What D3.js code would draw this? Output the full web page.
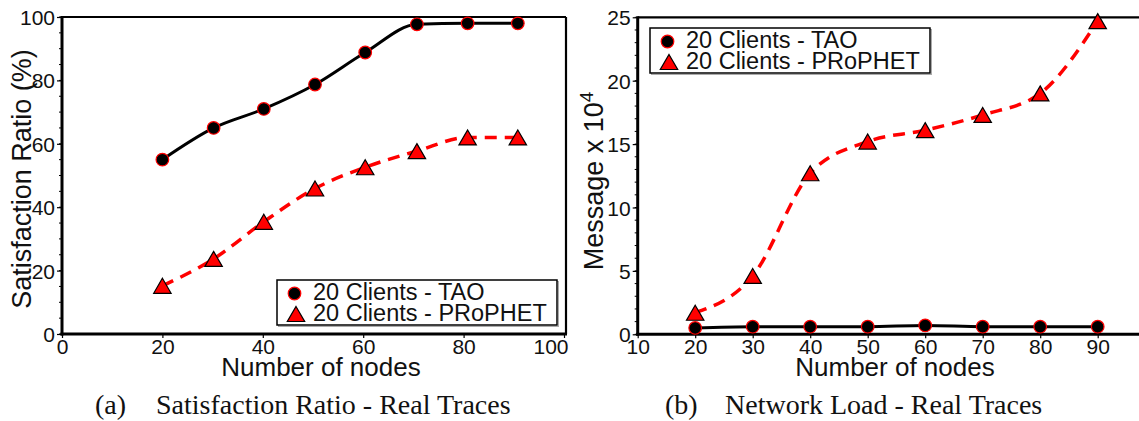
<!DOCTYPE html>
<html>
<head>
<meta charset="utf-8">
<script src="https://cdn.jsdelivr.net/npm/d3@7"></script>
<style>
  html, body { margin: 0; padding: 0; background: #fff; overflow: hidden; }
  svg { display: block; }
  text { font-family: "Liberation Sans", Arial, sans-serif; fill: #111; }
</style>
</head>
<body>
<svg id="chart" width="1139" height="421"></svg>
<script>
// ---------- data ----------
const nodesA = [20, 30.2, 40.2, 50.4, 60.4, 70.7, 80.8, 90.8];
const taoSatisfaction = [55, 65, 71, 78.7, 88.8, 97.7, 98, 98];
const prophetSatisfaction = [15.2, 23.7, 35.4, 45.9, 52.6, 57.7, 62, 62];

const nodesB = [20, 30, 40, 50, 60, 70, 80, 90];
const taoLoad = [0.5, 0.6, 0.6, 0.6, 0.7, 0.6, 0.6, 0.6];
const prophetLoad = [1.7, 4.6, 12.7, 15.2, 16.1, 17.3, 19.0, 24.7];

const seriesNames = ["20 Clients - TAO", "20 Clients - PRoPHET"];
const ticksAx = [0, 20, 40, 60, 80, 100];
const ticksAy = [0, 20, 40, 60, 80, 100];
const ticksBx = [10, 20, 30, 40, 50, 60, 70, 80, 90];
const ticksBy = [0, 5, 10, 15, 20, 25];

const svg = d3.select("#chart");

const triPath = "M0,-7.5L8.7,7.5L-8.7,7.5Z";

function drawPanel(cfg) {
  const g = svg.append("g");
  const x = d3.scaleLinear().domain(cfg.xDomain).range(cfg.xRange);
  const y = d3.scaleLinear().domain(cfg.yDomain).range(cfg.yRange);
  const x0 = cfg.xRange[0], y0 = cfg.yRange[0], y1 = cfg.yRange[1];
  const xRight = cfg.frameRight;

  // frame: top and right
  g.append("line").attr("x1", x0).attr("x2", xRight).attr("y1", y1).attr("y2", y1)
    .attr("stroke", "#000").attr("stroke-width", 2.2);
  if (cfg.drawRight) {
    g.append("line").attr("x1", xRight).attr("x2", xRight).attr("y1", y1).attr("y2", y0)
      .attr("stroke", "#000").attr("stroke-width", 2.2);
  }

  // y axis minor ticks
  const yMinor = d3.range(cfg.yDomain[0], cfg.yDomain[1] + 1e-9, cfg.yMinorStep);
  g.selectAll(".ymin").data(yMinor).join("line")
    .attr("x1", x0 - 3).attr("x2", x0).attr("y1", d => y(d)).attr("y2", d => y(d))
    .attr("stroke", "#000").attr("stroke-width", 1);

  // y axis
  const yAxis = d3.axisLeft(y).tickValues(cfg.yTicks).tickSize(5).tickPadding(2).tickFormat(d3.format("d"));
  const ya = g.append("g").attr("transform", `translate(${x0},0)`).call(yAxis);
  ya.select(".domain").remove();
  ya.selectAll(".tick line").attr("stroke", "#000").attr("stroke-width", 1.2);
  ya.selectAll("text").style("font-size", "21px").style("font-family", "Liberation Sans, Arial, sans-serif").attr("fill", "#1a1a1a").attr("dy", "0.36em");

  // x axis
  const xAxis = d3.axisBottom(x).tickValues(cfg.xTicks).tickSize(4).tickPadding(1).tickFormat(d3.format("d"));
  const xa = g.append("g").attr("transform", `translate(0,${y0})`).call(xAxis);
  xa.select(".domain").remove();
  xa.selectAll(".tick line").attr("stroke", "#000").attr("stroke-width", 1.2);
  xa.selectAll("text").style("font-size", "21px").style("font-family", "Liberation Sans, Arial, sans-serif").attr("fill", "#1a1a1a").attr("dy", "0.7em");
  if (cfg.lastXLabelEnd) {
    xa.selectAll(".tick").filter(d => d === cfg.xTicks[cfg.xTicks.length - 1])
      .select("text").attr("text-anchor", "end").attr("x", cfg.lastXLabelEnd);
  }

  // main axis lines (thick)
  g.append("line").attr("x1", x0).attr("x2", x0).attr("y1", y1 - 1).attr("y2", y0 + 1.5)
    .attr("stroke", "#000").attr("stroke-width", 3);
  g.append("line").attr("x1", x0 - 1.5).attr("x2", xRight + 1).attr("y1", y0).attr("y2", y0)
    .attr("stroke", "#000").attr("stroke-width", 3);

  // titles
  g.append("text").attr("x", cfg.xTitle[0]).attr("y", cfg.xTitle[1])
    .attr("text-anchor", "middle").style("font-size", "26px").text("Number of nodes");
  const yt = g.append("text")
    .attr("transform", `translate(${cfg.yTitle[0]},${cfg.yTitle[1]}) rotate(-90)`)
    .attr("text-anchor", "middle").style("font-size", "27px");
  cfg.yTitleBuild(yt);

  // lines
  const tao = cfg.nodes.map((n, i) => [n, cfg.tao[i]]);
  const pro = cfg.nodes.map((n, i) => [n, cfg.prophet[i]]);
  const line = d3.line().x(d => x(d[0])).y(d => y(d[1])).curve(d3.curveMonotoneX);

  g.append("path").datum(pro).attr("d", line).attr("fill", "none")
    .attr("stroke", "#ff0000").attr("stroke-width", 3.5).attr("stroke-dasharray", "12,8");
  g.append("path").datum(tao).attr("d", line).attr("fill", "none")
    .attr("stroke", "#000").attr("stroke-width", 3);

  g.selectAll(".tri").data(pro).join("path")
    .attr("d", triPath)
    .attr("transform", d => `translate(${x(d[0])},${y(d[1])})`)
    .attr("fill", "#ff0000").attr("stroke", "#000").attr("stroke-width", 1.2);
  g.selectAll(".dot").data(tao).join("circle")
    .attr("cx", d => x(d[0])).attr("cy", d => y(d[1])).attr("r", 6.3)
    .attr("fill", "#000").attr("stroke", "#ff0000").attr("stroke-width", 1.2);

  // legend
  const L = cfg.legend;
  g.append("rect").attr("x", L.x + 1.5).attr("y", L.y + 1.5).attr("width", L.w).attr("height", L.h)
    .attr("fill", "none").attr("stroke", "#aaa").attr("stroke-width", 1);
  g.append("rect").attr("x", L.x).attr("y", L.y).attr("width", L.w).attr("height", L.h)
    .attr("fill", "#fff").attr("stroke", "#000").attr("stroke-width", 1.5);
  g.append("circle").attr("cx", L.x + 17.5).attr("cy", L.y + 13.5).attr("r", 6.3)
    .attr("fill", "#000").attr("stroke", "#ff0000").attr("stroke-width", 1.2);
  g.append("path").attr("d", triPath)
    .attr("transform", `translate(${L.x + 19},${L.y + 34})`)
    .attr("fill", "#ff0000").attr("stroke", "#000").attr("stroke-width", 1.2);
  g.append("text").attr("x", L.x + 36).attr("y", L.y + 20).style("font-size", "23.5px").text(seriesNames[0]);
  g.append("text").attr("x", L.x + 36).attr("y", L.y + 41).style("font-size", "23.5px").text(seriesNames[1]);

  // caption
  g.append("text").attr("x", cfg.caption.x).attr("y", 414)
    .style("font-family", "Liberation Serif, 'Times New Roman', serif").style("font-size", "28px")
    .text(cfg.caption.label);
  g.append("text").attr("x", cfg.caption.x2).attr("y", 414)
    .style("font-family", "Liberation Serif, 'Times New Roman', serif").style("font-size", "28px")
    .text(cfg.caption.text);
}

drawPanel({
  xDomain: [0, 100], xRange: [62, 564], yDomain: [0, 100], yRange: [334, 17],
  frameRight: 566, drawRight: true, lastXLabelEnd: 4,
  xTicks: ticksAx, yTicks: ticksAy, yMinorStep: 5,
  nodes: nodesA, tao: taoSatisfaction, prophet: prophetSatisfaction,
  xTitle: [321, 376], yTitle: [31, 179],
  yTitleBuild: t => t.text("Satisfaction Ratio (%)"),
  legend: { x: 277, y: 280, w: 280, h: 45 },
  caption: { x: 95, x2: 156, label: "(a)", text: "Satisfaction Ratio - Real Traces" }
});

drawPanel({
  xDomain: [10, 100], xRange: [637.7, 637.7 + 90 * 5.75], yDomain: [0, 25], yRange: [334.3, 17.3],
  frameRight: 1145, drawRight: false,
  xTicks: ticksBx, yTicks: ticksBy, yMinorStep: 1,
  nodes: nodesB, tao: taoLoad, prophet: prophetLoad,
  xTitle: [895, 376], yTitle: [603, 181],
  yTitleBuild: t => {
    t.append("tspan").text("Message x 10");
    t.append("tspan").attr("dy", "-0.55em").style("font-size", "19px").text("4");
  },
  legend: { x: 650, y: 28, w: 280, h: 45 },
  caption: { x: 665, x2: 725, label: "(b)", text: "Network Load - Real Traces" }
});
</script>
</body>
</html>
